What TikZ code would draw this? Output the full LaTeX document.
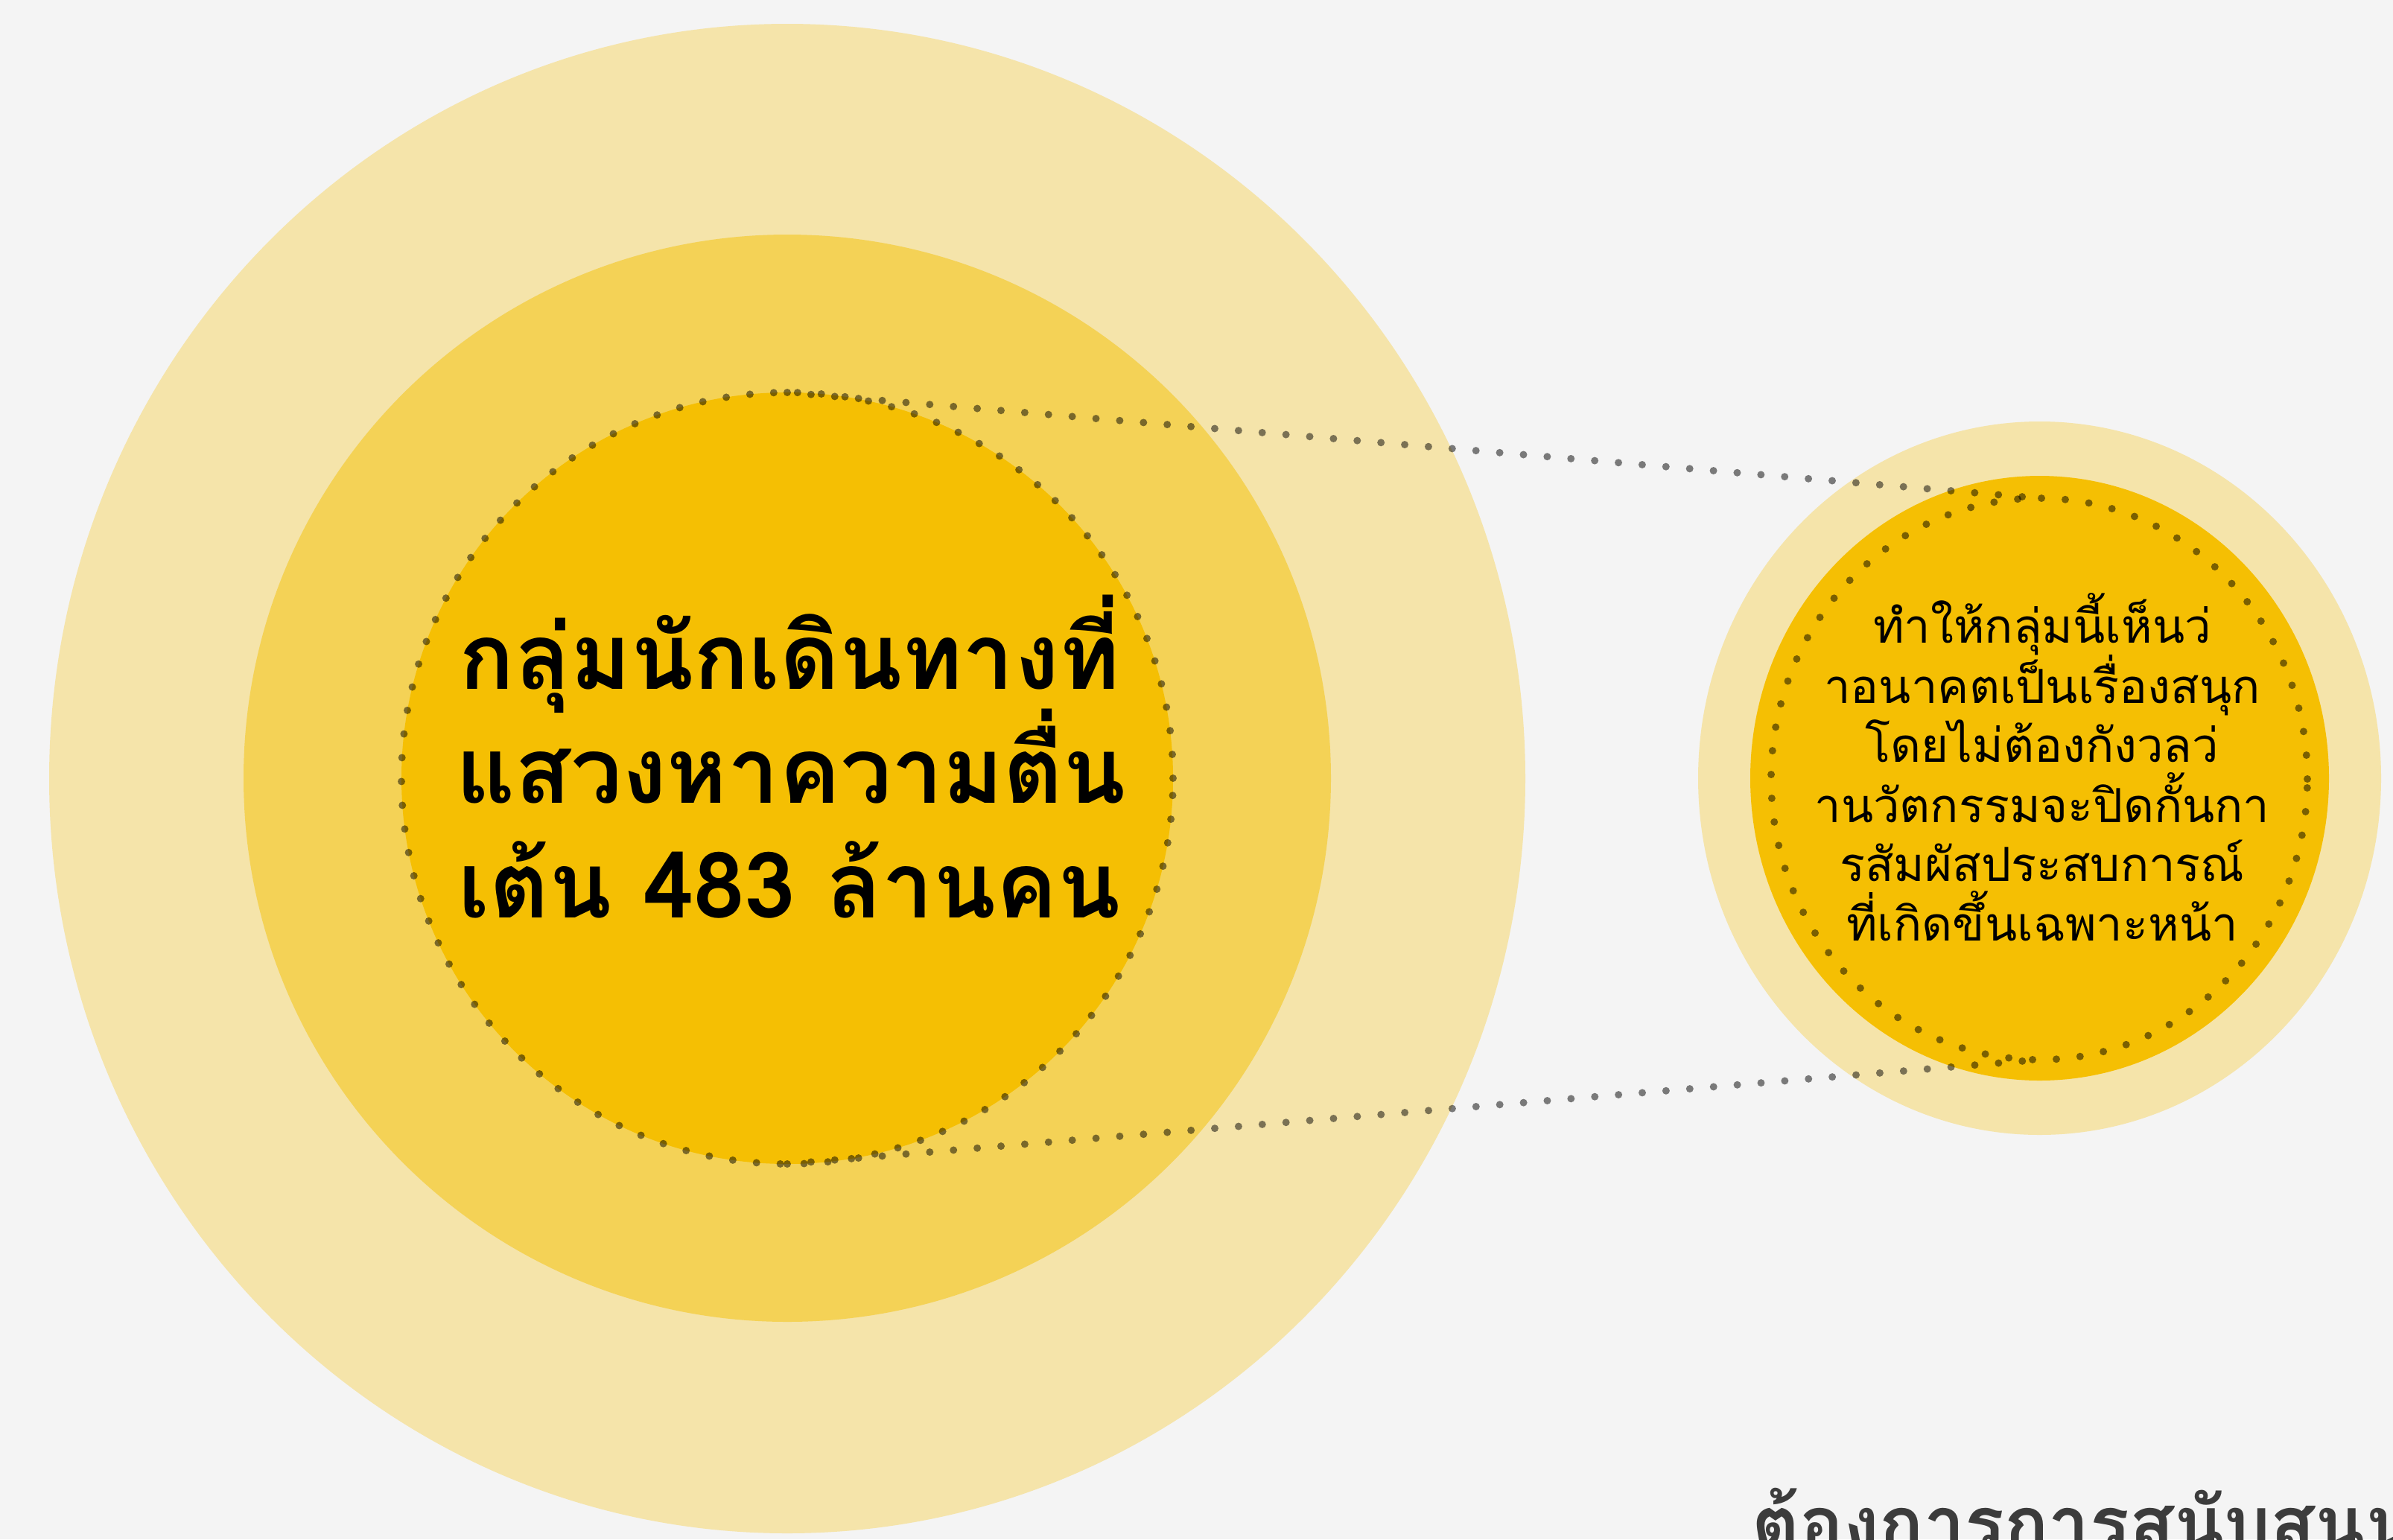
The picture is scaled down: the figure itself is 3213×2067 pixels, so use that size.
\documentclass[tikz,border=0pt]{standalone}
\usepackage{fontspec}
\newfontfamily\thaifont[Script=Thai]{Loma}
\usetikzlibrary{shapes.geometric}
\definecolor{bg}{HTML}{F4F4F4}
\definecolor{pale}{HTML}{F5E4AA}
\definecolor{mid}{HTML}{F4D256}
\definecolor{deep}{HTML}{F5BF03}
\definecolor{graytext}{HTML}{3C3C3C}
\begin{document}
\begin{tikzpicture}[x=0.1mm,y=-0.1mm,
  disc/.style={ellipse, inner sep=0pt, outer sep=0pt, draw=none},
  dotring/.style={ellipse, inner sep=0pt, outer sep=0pt, draw=black, draw opacity=0.5, line width=1mm, line cap=round, dash pattern=on 0pt off 3.2mm},
  dotline/.style={draw=black, draw opacity=0.5, line width=1mm, line cap=round, dash pattern=on 0pt off 3.2mm},
  bigtxt/.style={anchor=base, inner sep=0pt, font=\thaifont\bfseries\fontsize{35}{35}\selectfont},
  smalltxt/.style={anchor=base, inner sep=0pt, font=\thaifont\fontsize{18}{18}\selectfont},
  foottxt/.style={anchor=base west, inner sep=0pt, text=graytext, font=\thaifont\bfseries\fontsize{28}{28}\selectfont},
]
\useasboundingbox (0,0) rectangle (3213,2067);
\clip (0,0) rectangle (3213,2067);
\fill[bg] (0,0) rectangle (3213,2067);
% left group
\node[disc, fill=pale, minimum width=198.2mm, minimum height=202.7mm] (outerL) at (1057,1045.5) {};
\node[disc, fill=mid, minimum width=146mm, minimum height=146mm] (midL) at (1057,1045) {};
\node[disc, fill=deep, minimum width=103.6mm, minimum height=103.6mm] (innerL) at (1057,1045) {};
% right group
\node[disc, fill=pale, minimum width=91.7mm, minimum height=95.8mm] (outerR) at (2738.5,1045) {};
\node[disc, fill=deep, minimum width=77.7mm, minimum height=81.2mm] (innerR) at (2738.5,1045) {};
% dotted rings and connectors
\node[dotring, minimum width=103.6mm, minimum height=103.6mm] (dotL) at (1057,1045) {};
\node[dotring, minimum width=72mm, minimum height=75.4mm] (dotR) at (2738,1046) {};
\draw[dotline] (dotL.north) -- (dotR.north);
\draw[dotline] (dotL.south) -- (dotR.south);
% texts
\node[bigtxt] (t1) at (1060,925) {กลุ่มนักเดินทางที่};
\node[bigtxt] (t2) at (1062,1078) {แสวงหาความตื่น};
\node[bigtxt] (t3) at (1060,1232) {เต้น 483 ล้านคน};
\node[smalltxt] (r1) at (2742,863) {ทำให้กลุ่มนี้เห็นว่};
\node[smalltxt] (r2) at (2742,944) {าอนาคตเป็นเรื่องสนุก};
\node[smalltxt] (r3) at (2742,1023) {โดยไม่ต้องกังวลว่};
\node[smalltxt] (r4) at (2742,1104) {านวัตกรรมจะปิดกั้นกา};
\node[smalltxt] (r5) at (2742,1183) {รสัมผัสประสบการณ์};
\node[smalltxt] (r6) at (2742,1263) {ที่เกิดขึ้นเฉพาะหน้า};
\node[foottxt] (foot) at (2352,2080) {ต้องการการสนับสนุน};
\end{tikzpicture}
\end{document}
